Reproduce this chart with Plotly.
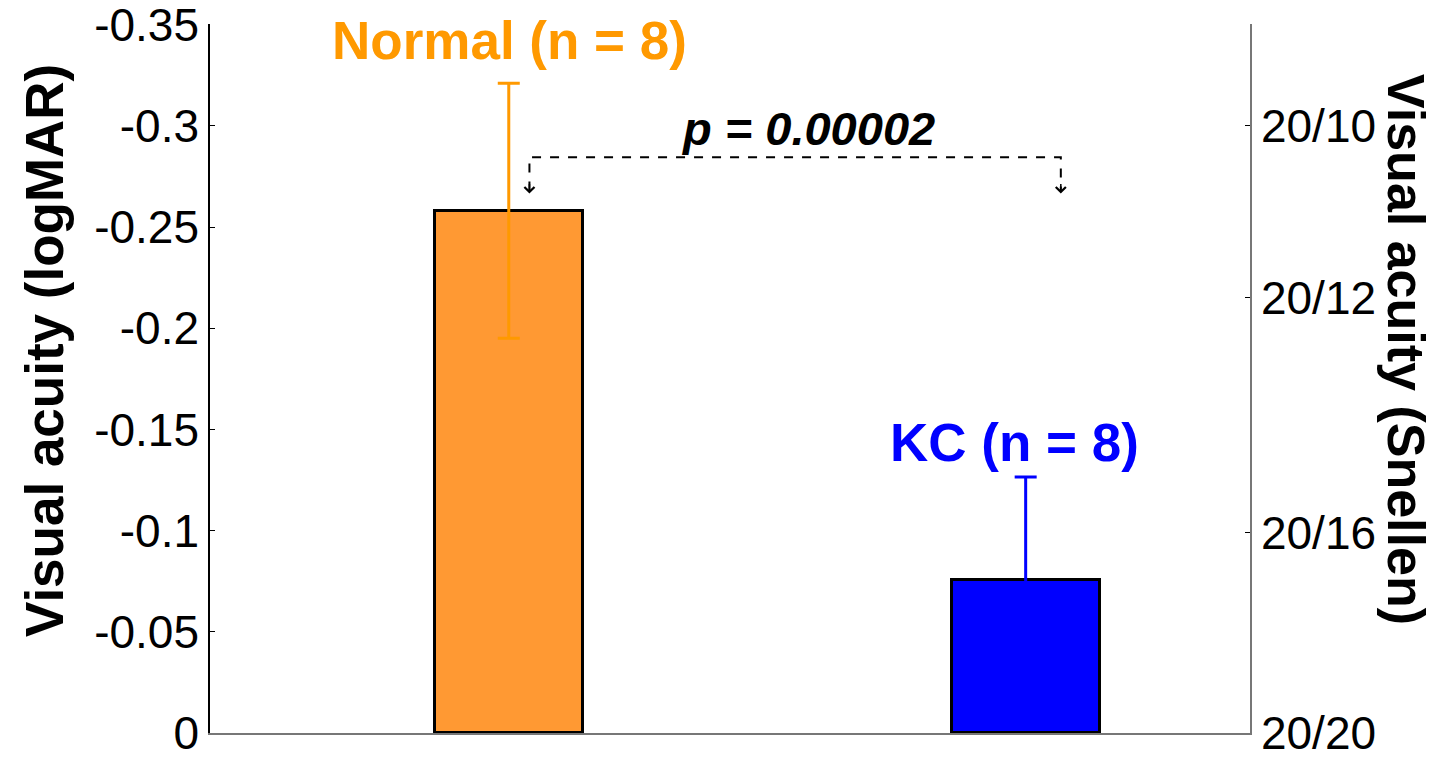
import plotly.graph_objects as go

# ---- data ----
groups = ["Normal (n = 8)", "KC (n = 8)"]
group_x = [1, 2]
logmar_mean = [-0.258, -0.0755]
logmar_err = [0.063, 0.051]
bar_colors = ["#FF9933", "#0000FF"]
err_colors = ["#FF9900", "#0000FF"]
label_colors = ["#FF9900", "#0000FF"]

left_tickvals = [-0.35, -0.3, -0.25, -0.2, -0.15, -0.1, -0.05, 0]
left_ticktext = ["-0.35", "-0.3", "-0.25", "-0.2", "-0.15", "-0.1", "-0.05", "0"]
right_tickvals = [-0.35, -0.3, -0.215, -0.099, 0]
right_ticktext = ["", "20/10", "20/12", "20/16", "20/20"]

p_text = "p = 0.00002"
bracket_x = [1.04, 1.04, 2.068, 2.068]
bracket_y = [-0.268, -0.2845, -0.2845, -0.268]

FONT = "Liberation Sans, Arial, sans-serif"

fig = go.Figure()
for i in range(2):
    fig.add_trace(go.Bar(
        x=[group_x[i]], y=[logmar_mean[i]], width=0.286,
        marker=dict(color=bar_colors[i], line=dict(color="black", width=3)),
        error_y=dict(type="data", array=[logmar_err[i]], color=err_colors[i],
                     thickness=3, width=11),
        showlegend=False, hoverinfo="skip",
    ))

# bracket
fig.add_trace(go.Scatter(x=bracket_x, y=bracket_y, mode="lines",
                         line=dict(color="black", width=2, dash="dash"),
                         showlegend=False, hoverinfo="skip"))
# invisible trace for right axis
fig.add_trace(go.Scatter(x=[group_x[0]], y=[0], yaxis="y2", mode="markers",
                         marker=dict(opacity=0), showlegend=False, hoverinfo="skip"))

annotations = []
# arrowheads
for xi in (bracket_x[0], bracket_x[3]):
    annotations.append(dict(x=xi, y=-0.2665, ax=xi, ay=-0.272, xref="x", yref="y",
                            axref="x", ayref="y", showarrow=True, arrowhead=4,
                            arrowsize=1.3, arrowwidth=1.5, arrowcolor="black", text=""))
# group labels
annotations.append(dict(x=1.002, y=-0.342, xref="x", yref="y", text="<b>" + groups[0] + "</b>",
                        showarrow=False, font=dict(size=53, color=label_colors[0], family=FONT),
                        xanchor="center", yanchor="middle"))
annotations.append(dict(x=1.979, y=-0.1436, xref="x", yref="y", text="<b>" + groups[1] + "</b>",
                        showarrow=False, font=dict(size=53, color=label_colors[1], family=FONT),
                        xanchor="center", yanchor="middle"))
annotations.append(dict(x=1.578, y=-0.2985, xref="x", yref="y", text="<b><i>" + p_text + "</i></b>",
                        showarrow=False, font=dict(size=47, color="black", family=FONT),
                        xanchor="center", yanchor="middle"))
# axis titles
annotations.append(dict(x=45, y=351, xref="paper", yref="paper", text="<b>Visual acuity (logMAR)</b>",
                        showarrow=False, textangle=-90, font=dict(size=53, color="black", family=FONT)))
annotations.append(dict(x=1406, y=349, xref="paper", yref="paper", text="<b>Visual acuity (Snellen)</b>",
                        showarrow=False, textangle=90, font=dict(size=52, color="black", family=FONT)))

W, H = 1438, 767
ML, MR, MT, MB = 210, 188, 24, 34
for a in annotations[-2:]:
    a["x"] = (a["x"] - ML) / (W - ML - MR)
    a["y"] = (H - MB - a["y"]) / (H - MT - MB)
    a["xanchor"] = "center"
    a["yanchor"] = "middle"

fig.update_layout(
    width=W, height=H,
    margin=dict(l=ML, r=MR, t=MT, b=MB, pad=0, autoexpand=False),
    paper_bgcolor="white", plot_bgcolor="white",
    font=dict(family=FONT, color="black"),
    xaxis=dict(range=[0.422, 2.434], showticklabels=False, ticks="", showgrid=False,
               zeroline=False, showline=True, linecolor="#777777", linewidth=1.5,
               automargin=False),
    yaxis=dict(range=[0, -0.3503], tickvals=left_tickvals, ticktext=left_ticktext,
               ticks="inside", ticklen=5, tickcolor="black", showgrid=False, zeroline=False,
               showline=True, linecolor="black", linewidth=1.5, automargin=False,
               ticklabeloverflow="allow",
               tickfont=dict(size=46, family=FONT, color="black")),
    yaxis2=dict(range=[0, -0.3503], overlaying="y", side="right", tickvals=right_tickvals,
                ticktext=right_ticktext, ticks="inside", ticklen=5, tickcolor="black",
                showgrid=False, zeroline=False, showline=True, linecolor="#777777", linewidth=1.5,
                automargin=False, ticklabeloverflow="allow",
                tickfont=dict(size=46, family=FONT, color="black")),
    annotations=annotations,
    bargap=0,
)

fig.write_html("out.html", config={"displayModeBar": False},
               post_script="document.body.style.margin='0';document.body.style.overflow='hidden';")
